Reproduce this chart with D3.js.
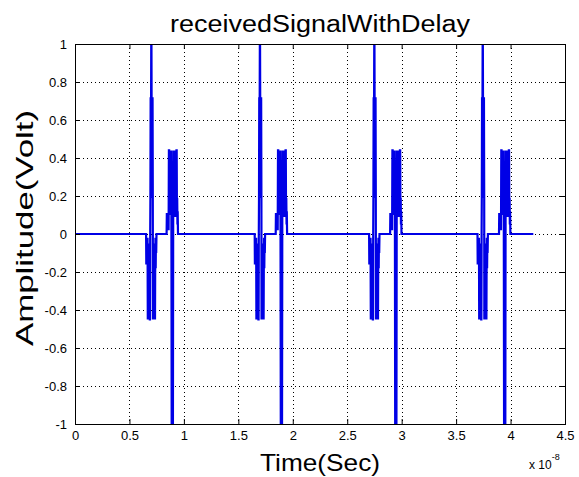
<!DOCTYPE html>
<html>
<head>
<meta charset="utf-8">
<script src="https://cdn.jsdelivr.net/npm/d3@7/dist/d3.min.js"></script>
<style>
  html, body { margin: 0; padding: 0; background: #ffffff; }
  svg { display: block; }
  text { font-family: "Liberation Sans", Arial, Helvetica, sans-serif; fill: #000; }
</style>
</head>
<body>
<svg id="chart" width="579" height="477"></svg>
<script>
// ---- data (time in units of 1e-8 s on the axis; pulse data in picoseconds) ----
const xTicks = [0, 0.5, 1, 1.5, 2, 2.5, 3, 3.5, 4, 4.5];
const xTickLabels = ["0", "0.5", "1", "1.5", "2", "2.5", "3", "3.5", "4", "4.5"];
const yTicks = [-1, -0.8, -0.6, -0.4, -0.2, 0, 0.2, 0.4, 0.6, 0.8, 1];
const yTickLabels = ["-1", "-0.8", "-0.6", "-0.4", "-0.2", "0", "0.2", "0.4", "0.6", "0.8", "1"];

// start time (ps) of the first (doublet) burst and of the second burst of each received pulse
const burstAStartPs = [6465, 16439, 26945, 36900];
const burstBStartPs = [8412, 18432, 28938, 38938];
const signalEndPs = 42090;

// burst A waveform: offsets (ps) from start, amplitude (V)
const burstAOffsetPs = [0, 64, 83, 106, 129, 152, 174, 197, 220, 243, 266, 289, 312, 335, 358, 381, 404, 422,
  441, 459, 482, 505, 523, 537, 556, 569, 588, 611, 634, 657, 680,
  693, 721, 744, 767, 790, 813, 836, 859, 882, 900, 923, 946, 969, 992, 1019];
const burstAValues = [0, 0, -0.16, -0.02, -0.16, -0.02, -0.16, -0.02, -0.45, -0.05, -0.45, -0.1, -0.45, -0.05, -0.45, -0.15, -0.45, -0.45,
  0, 0.19, 0.72, 0.19, 0.72, 1.0, 1.0, 0.72, 0.19, 0.72, 0.19, 0.72, 0.19,
  -0.45, -0.05, -0.45, -0.1, -0.45, -0.05, -0.45, -0.1, -0.45, -0.18, -0.02, -0.18, -0.02, -0.1, 0];

// burst B waveform: offsets (ps) from start, amplitude (V)
const burstBOffsetPs = [0, 23, 46, 69, 92, 115, 138, 161, 184,
  211, 234, 257, 280, 303, 326, 349, 372, 395, 418, 441,
  468, 496, 523, 551, 579,
  606, 629, 652, 675, 698, 721, 744, 767, 790, 813, 836, 859, 882, 905, 927,
  950, 973, 996, 1019, 1047];
const burstBValues = [0, 0.11, 0.02, 0.11, 0.02, 0.11, 0.02, 0.11, 0.02,
  0.44, 0.44, 0.1, 0.44, 0.1, 0.44, 0.1, 0.44, 0.1, 0.44, 0.1,
  -1.1, -0.3, -1.1, -0.3, -1.1,
  0.1, 0.44, 0.15, 0.44, 0.15, 0.44, 0.15, 0.44, 0.09, 0.44, 0.09, 0.44, 0.09, 0.44, 0.44,
  0.09, 0.19, 0.05, 0.12, 0];

const titleText = "receivedSignalWithDelay";
const xLabelText = "Time(Sec)";
const yLabelText = "Amplitude(Volt)";

// ---- build the series (seconds, volts) ----
const series = [[0, 0]];
burstAStartPs.forEach((sA, i) => {
  burstAOffsetPs.forEach((o, k) => series.push([(sA + o) * 1e-12, burstAValues[k]]));
  const sB = burstBStartPs[i];
  burstBOffsetPs.forEach((o, k) => series.push([(sB + o) * 1e-12, burstBValues[k]]));
});
series.push([signalEndPs * 1e-12, 0]);

// ---- layout ----
const W = 579, H = 477;
const m = { left: 75, top: 44, right: 14, bottom: 53 };
const pw = W - m.left - m.right;   // 490
const ph = H - m.top - m.bottom;   // 380

const svg = d3.select("#chart");
svg.append("rect").attr("width", W).attr("height", H).attr("fill", "#fff");

const x = d3.scaleLinear().domain([0, 4.5e-8]).range([0, pw]);
const y = d3.scaleLinear().domain([-1, 1]).range([ph, 0]);

const g = svg.append("g").attr("transform", `translate(${m.left},${m.top})`);

// grid
const gridX = xTicks.slice(1, -1);
const gridY = yTicks.slice(1, -1);
g.append("g").selectAll("line").data(gridX).join("line")
  .attr("x1", d => Math.round(x(d * 1e-8)) + 0.5).attr("x2", d => Math.round(x(d * 1e-8)) + 0.5)
  .attr("y1", 0).attr("y2", ph)
  .attr("stroke", "#000").attr("stroke-width", 1).attr("stroke-dasharray", "1,3");
g.append("g").selectAll("line").data(gridY).join("line")
  .attr("y1", d => Math.round(y(d)) + 0.5).attr("y2", d => Math.round(y(d)) + 0.5)
  .attr("x1", 0).attr("x2", pw)
  .attr("stroke", "#000").attr("stroke-width", 1).attr("stroke-dasharray", "1,3");

// signal
svg.append("defs").append("clipPath").attr("id", "clip")
  .append("rect").attr("x", 0).attr("y", 0).attr("width", pw).attr("height", ph);
const line = d3.line().x(d => x(d[0])).y(d => y(d[1]));
g.append("path").datum(series)
  .attr("clip-path", "url(#clip)")
  .attr("fill", "none").attr("stroke", "#0000e6").attr("stroke-width", 2.2)
  .attr("stroke-linejoin", "miter").attr("stroke-miterlimit", 1.5)
  .attr("d", line);

// axes (ticks pointing inward on all sides)
const tickLen = 5;
const xAxisB = d3.axisBottom(x).tickValues(xTicks.map(v => v * 1e-8)).tickSize(-tickLen).tickPadding(7)
  .tickFormat((d, i) => xTickLabels[i]);
const xAxisT = d3.axisTop(x).tickValues(xTicks.map(v => v * 1e-8)).tickSize(-tickLen).tickFormat("");
const yAxisL = d3.axisLeft(y).tickValues(yTicks).tickSize(-tickLen).tickPadding(8)
  .tickFormat((d, i) => yTickLabels[i]);
const yAxisR = d3.axisRight(y).tickValues(yTicks).tickSize(-tickLen).tickFormat("");

function styleAxis(sel) {
  sel.select(".domain").remove();
  sel.selectAll(".tick line").attr("stroke", "#000");
  sel.selectAll(".tick text").attr("font-size", 13).attr("fill", "#000")
    .attr("font-family", '"Liberation Sans", Arial, sans-serif');
}
g.append("g").attr("transform", `translate(0,${ph})`).call(xAxisB).call(styleAxis);
g.append("g").call(xAxisT).call(styleAxis);
g.append("g").call(yAxisL).call(styleAxis);
g.append("g").attr("transform", `translate(${pw},0)`).call(yAxisR).call(styleAxis);

// box
g.append("rect").attr("x", 0.5).attr("y", 0.5).attr("width", pw).attr("height", ph)
  .attr("fill", "none").attr("stroke", "#000").attr("stroke-width", 1);

// exponent label
const ex = svg.append("text").attr("x", 529).attr("y", 469).attr("font-size", 12);
ex.append("tspan").text("x 10");
ex.append("tspan").attr("dy", -9).attr("font-size", 9).text("-8");

// title & labels
svg.append("text").attr("x", m.left + pw / 2).attr("y", 32)
  .attr("text-anchor", "middle").attr("font-size", 23)
  .attr("textLength", 300).attr("lengthAdjust", "spacingAndGlyphs")
  .text(titleText);
svg.append("text").attr("x", m.left + pw / 2).attr("y", 471)
  .attr("text-anchor", "middle").attr("font-size", 24)
  .attr("textLength", 120).attr("lengthAdjust", "spacingAndGlyphs")
  .text(xLabelText);
svg.append("text").attr("transform", `translate(33,${m.top + ph / 2 - 6}) rotate(-90)`)
  .attr("text-anchor", "middle").attr("font-size", 24)
  .attr("textLength", 236).attr("lengthAdjust", "spacingAndGlyphs")
  .text(yLabelText);
</script>
</body>
</html>
